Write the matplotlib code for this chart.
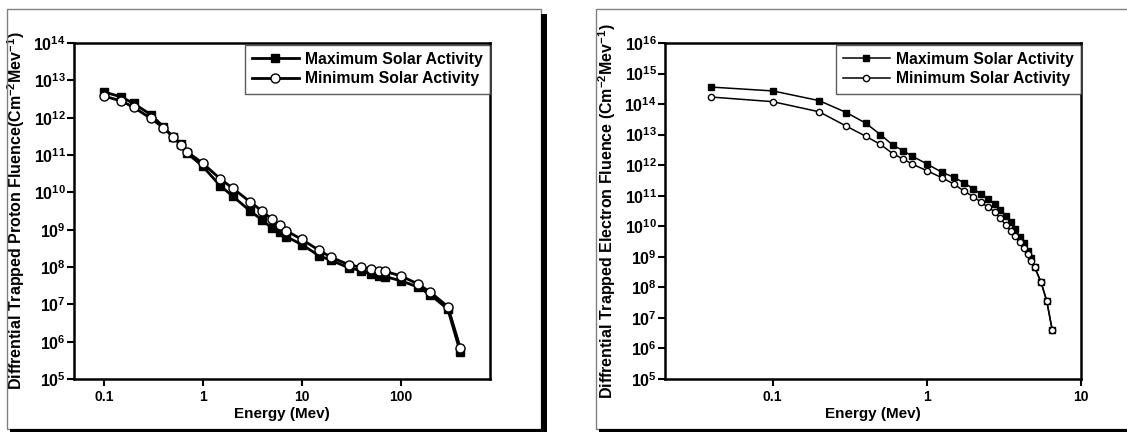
import numpy as np
import matplotlib
matplotlib.use("Agg")
from matplotlib import pyplot as plt
from matplotlib.patches import Rectangle

plt.rcParams['font.family'] = ['Liberation Sans', 'DejaVu Sans']
plt.rcParams['font.weight'] = 'bold'
plt.rcParams['mathtext.fontset'] = 'custom'
plt.rcParams['mathtext.rm'] = 'Liberation Sans:bold'
plt.rcParams['mathtext.bf'] = 'Liberation Sans:bold'
plt.rcParams['mathtext.it'] = 'Liberation Sans:bold'

# proton spectrum (left)
proton_energy = [0.1, 0.15, 0.2, 0.3, 0.4, 0.5, 0.6, 0.7, 1, 1.5, 2, 3, 4, 5, 6, 7,
                 10, 15, 20, 30, 40, 50, 60, 70, 100, 150, 200, 300, 400]
proton_max = [4.9e12, 3.6e12, 2.4e12, 1.2e12, 5.7e11, 3.0e11, 2.0e11, 1.1e11, 5.0e10,
              1.5e10, 8.0e9, 3.2e9, 1.8e9, 1.1e9, 8.5e8, 6.5e8, 4.0e8, 2.0e8, 1.5e8,
              9.5e7, 8.0e7, 6.5e7, 5.9e7, 5.5e7, 4.3e7, 2.9e7, 1.8e7, 7.4e6, 5.3e5]
proton_min = [3.8e12, 2.8e12, 1.9e12, 9.5e11, 5.4e11, 3.1e11, 1.9e11, 1.2e11, 6.0e10,
              2.3e10, 1.3e10, 5.6e9, 3.1e9, 1.9e9, 1.3e9, 9.3e8, 5.5e8, 2.8e8, 1.8e8,
              1.15e8, 9.8e7, 8.7e7, 8.0e7, 7.6e7, 5.8e7, 3.5e7, 2.1e7, 8.7e6, 6.8e5]

# electron spectrum (right)
electron_energy = [0.04, 0.1, 0.2, 0.3, 0.4, 0.5, 0.6, 0.7, 0.8, 1.0, 1.25, 1.5, 1.75,
                   2.0, 2.25, 2.5, 2.75, 3.0, 3.25, 3.5, 3.75, 4.0, 4.25, 4.5, 4.75,
                   5.0, 5.5, 6.0, 6.5]
electron_max = [3.6e14, 2.7e14, 1.3e14, 5.3e13, 2.4e13, 1.0e13, 4.6e12, 3.0e12, 2.0e12,
                1.1e12, 5.9e11, 4.0e11, 2.6e11, 1.7e11, 1.1e11, 7.6e10, 5.5e10, 3.3e10,
                2.1e10, 1.4e10, 7.9e9, 4.6e9, 2.8e9, 1.6e9, 8.9e8, 4.7e8, 1.5e8,
                3.5e7, 4.1e6]
electron_min = [1.7e14, 1.2e14, 5.6e13, 1.9e13, 8.9e12, 4.8e12, 2.4e12, 1.6e12, 1.1e12,
                6.6e11, 3.9e11, 2.4e11, 1.4e11, 9.3e10, 6.1e10, 4.2e10, 3.0e10, 1.8e10,
                1.1e10, 7.2e9, 4.9e9, 3.1e9, 2.0e9, 1.2e9, 7.5e8, 4.5e8, 1.5e8,
                3.5e7, 4.1e6]

W, H = 1127, 432
fig = plt.figure(figsize=(W / 100, H / 100), dpi=100)


def px_rect(x0, y0, x1, y1):
    """pixel box (top-left origin) to figure fraction"""
    return [x0 / W, 1 - y1 / H, (x1 - x0) / W, (y1 - y0) / H]


def frame(x0, y0, x1, y1, right_shadow=True):
    fig.patches.append(Rectangle((x0 / W, 1 - y1 / H), (x1 - x0) / W, (y1 - y0) / H,
                                 transform=fig.transFigure, fill=False,
                                 edgecolor='#808080', linewidth=1))
    # black shadow along bottom (and right)
    fig.patches.append(Rectangle(((x0 + 3) / W, 1 - (y1 + 3) / H),
                                 (x1 - x0 + 3) / W, 3 / H,
                                 transform=fig.transFigure, color='black', lw=0))
    if right_shadow:
        fig.patches.append(Rectangle((x1 / W, 1 - (y1 + 3) / H), 6 / W,
                                     (y1 - y0 - 2) / H,
                                     transform=fig.transFigure, color='black', lw=0))


frame(7, 9, 541, 429)
frame(596, 9, 1150, 429, right_shadow=False)


def decade_labels(lo, hi):
    ticks = [10.0 ** k for k in range(lo, hi + 1)]
    labels = [r'$\mathbf{10^{%d}}$' % k for k in range(lo, hi + 1)]
    return ticks, labels


def style_axes(ax, lw):
    for s in ax.spines.values():
        s.set_linewidth(lw)
    ax.tick_params(axis='both', which='major', direction='out', length=5, width=1.5)
    ax.tick_params(axis='x', labelsize=10, pad=3)
    ax.tick_params(axis='y', labelsize=11.5, pad=1)
    ax.tick_params(axis='both', which='minor', length=0)


def plot_panel(ax, x, ymax, ymin, ms_sq, ms_ci, lw, xlim, ylo, yhi, xticks, xtlabels,
               ylabel):
    ax.plot(x, ymax, color='black', marker='s', ms=ms_sq, lw=lw, mfc='black',
            mec='black', label='Maximum Solar Activity')
    ax.plot(x, ymin, color='black', marker='o', ms=ms_ci, lw=lw, mfc='white',
            mec='black', mew=1, label='Minimum Solar Activity')
    ax.set_xscale('log')
    ax.set_yscale('log')
    ax.set_xlim(*xlim)
    ax.set_ylim(10.0 ** ylo, 10.0 ** yhi)
    ax.set_xticks(xticks)
    ax.set_xticklabels(xtlabels)
    yt, yl = decade_labels(ylo, yhi)
    ax.set_yticks(yt)
    ax.set_yticklabels(yl)
    ax.set_xlabel('Energy (Mev)', fontsize=11, fontweight='bold', labelpad=2)
    ax.set_ylabel(ylabel, fontsize=11.5, fontweight='bold')
    ax.yaxis.set_label_coords(-0.113, 0.5)
    style_axes(ax, 1.8)
    leg = ax.legend(loc='upper right', bbox_to_anchor=(1.0, 0.995), fontsize=11.3,
                    frameon=True, fancybox=False, handlelength=3.0,
                    borderaxespad=0, labelspacing=0.3, borderpad=0.45,
                    handletextpad=0.4)
    leg.get_frame().set_edgecolor('#333333')
    leg.get_frame().set_linewidth(1)
    for t in leg.get_texts():
        t.set_fontweight('bold')


ax1 = fig.add_axes(px_rect(74, 43, 490, 379))
plot_panel(ax1, proton_energy, proton_max, proton_min, 5.5, 6.5, 2.0, (0.05, 800), 5, 14,
           [0.1, 1, 10, 100], ['0.1', '1', '10', '100'],
           r'Diffrential Trapped Proton Fluence(Cm$^{-2}$Mev$^{-1}$)')

ax2 = fig.add_axes(px_rect(665, 43, 1081, 379))
plot_panel(ax2, electron_energy, electron_max, electron_min, 4.0, 4.5, 1.1, (0.02, 10),
           5, 16, [0.1, 1, 10], ['0.1', '1', '10'],
           r'Diffrential Trapped Electron Fluence (Cm$^{-2}$Mev$^{-1}$)')

fig.savefig('out.png', dpi=100)
